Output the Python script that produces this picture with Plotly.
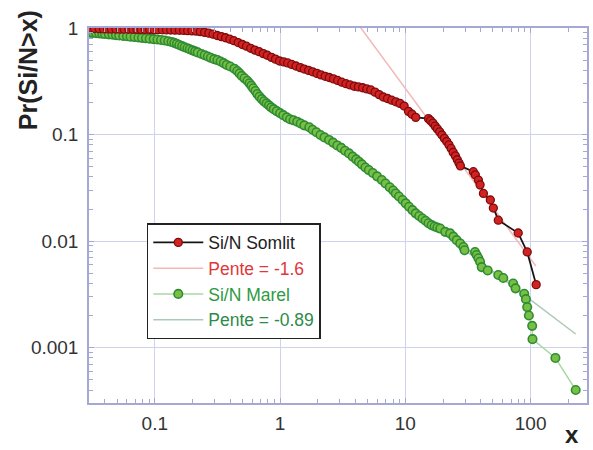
import plotly.graph_objects as go

# ---- data (survival functions Pr(Si/N > x)) ----
somlit_x = [0.031, 0.033, 0.036, 0.039, 0.042, 0.045, 0.049, 0.053, 0.057, 0.062, 0.067, 0.072, 0.078,
            0.084, 0.091, 0.098, 0.106, 0.115, 0.124, 0.134, 0.145, 0.157, 0.170, 0.183, 0.198,
            0.214, 0.231, 0.25, 0.27, 0.292, 0.315, 0.34, 0.367, 0.397, 0.428, 0.463, 0.5, 0.54, 0.583,
            0.63, 0.68, 0.735, 0.79, 0.855, 0.92, 0.99,
            1.07, 1.15, 1.24, 1.34, 1.45, 1.56, 1.69, 1.82, 1.97, 2.12, 2.29, 2.47, 2.67, 2.88, 3.11,
            3.36, 3.62, 3.91, 4.22, 4.56, 4.92, 5.3, 5.73, 6.18, 6.67, 7.2, 7.78, 8.4, 9.06, 9.78,
            10.6, 11.3, 12.1, 15.3, 15.9, 16.6, 17.3, 18.0, 18.8, 19.6, 20.5, 21.4, 22.3, 23.2, 24.1,
            25.1, 26.0, 26.8, 27.5, 34.9, 36.2, 38.3, 39.5, 42.0, 47.7, 50.4, 55.2, 79.6, 93.9, 110.7]
somlit_y = [0.99, 0.99, 0.985, 0.98, 0.98, 0.978, 0.976, 0.975, 0.974, 0.973, 0.972, 0.971, 0.97,
            0.969, 0.968, 0.966, 0.964, 0.962, 0.96, 0.958, 0.955, 0.952, 0.948, 0.944, 0.94,
            0.935, 0.925, 0.91, 0.895, 0.875, 0.85, 0.83, 0.81, 0.785, 0.76, 0.73, 0.70, 0.675, 0.645,
            0.62, 0.60, 0.575, 0.555, 0.53, 0.51, 0.49,
            0.48, 0.47, 0.455, 0.44, 0.425, 0.412, 0.40, 0.388, 0.375, 0.363, 0.352, 0.343, 0.333, 0.322, 0.31,
            0.30, 0.292, 0.284, 0.28, 0.275, 0.268, 0.262, 0.25, 0.237, 0.225, 0.218, 0.21, 0.203, 0.196, 0.185,
            0.165, 0.155, 0.145, 0.141, 0.135, 0.128, 0.12, 0.113, 0.106, 0.099, 0.092, 0.086, 0.08, 0.074, 0.068,
            0.063, 0.058, 0.054, 0.0508, 0.0448, 0.0418, 0.0374, 0.0337, 0.028, 0.0243, 0.0204, 0.0157,
            0.0119, 0.0079, 0.0039]

marel_x = [0.0305, 0.032, 0.034, 0.036, 0.038, 0.040, 0.043, 0.046, 0.049, 0.052, 0.056, 0.060, 0.064,
           0.069, 0.074, 0.079, 0.085, 0.091, 0.098, 0.105, 0.112, 0.12, 0.128, 0.136,
           0.143, 0.150, 0.157, 0.165, 0.173, 0.182, 0.19, 0.2, 0.21, 0.22, 0.236, 0.25, 0.265, 0.28,
           0.298, 0.316, 0.335, 0.355, 0.375, 0.4, 0.432, 0.455, 0.475, 0.495, 0.52, 0.548,
           0.57, 0.59, 0.61, 0.635, 0.658, 0.685, 0.715, 0.745, 0.78, 0.815, 0.85, 0.89, 0.94, 1.0,
           1.06, 1.13, 1.2, 1.28, 1.37, 1.46, 1.56, 1.71, 1.82, 1.95, 2.1, 2.26, 2.46, 2.65, 2.86,
           3.08, 3.3, 3.55, 3.8, 4.05, 4.26, 4.5, 4.8, 5.11, 5.5, 5.95, 6.49, 6.95, 7.5, 8.0, 8.38,
           8.9, 9.5, 10.07, 10.7, 11.4, 12.1, 12.9, 13.7, 14.5, 15.3, 16.2, 17.1, 18.0, 19.0, 20.8,
           22.8, 24.2, 25.7, 27.4, 29.1, 29.7, 36.0, 37.1, 38.3, 39.5, 40.7, 45.4, 55.2, 60.5, 72.6,
           75.8, 88.9, 91.7, 93.9, 96.8, 102.9, 103.5, 157.7, 229.0]
marel_y = [0.905, 0.90, 0.895, 0.89, 0.885, 0.88, 0.872, 0.865, 0.858, 0.85, 0.843, 0.836, 0.829,
           0.822, 0.815, 0.808, 0.80, 0.794, 0.787, 0.78, 0.772, 0.763, 0.752, 0.74,
           0.725, 0.71, 0.693, 0.676, 0.66, 0.645, 0.632, 0.617, 0.603, 0.59, 0.57, 0.555, 0.54, 0.525,
           0.51, 0.50, 0.485, 0.468, 0.45, 0.435, 0.415, 0.395, 0.375, 0.355, 0.337, 0.32,
           0.303, 0.288, 0.272, 0.256, 0.24, 0.227, 0.215, 0.205, 0.196, 0.188, 0.18, 0.173, 0.166, 0.159,
           0.152, 0.145, 0.139, 0.136, 0.132, 0.127, 0.122, 0.117, 0.111, 0.105, 0.099, 0.094, 0.089, 0.084, 0.079,
           0.075, 0.0705, 0.0665, 0.062, 0.0585, 0.0556, 0.0525, 0.049, 0.0464, 0.0435, 0.0405, 0.0374, 0.0347,
           0.032, 0.0298, 0.028,
           0.0262, 0.0243, 0.0226, 0.021, 0.0195, 0.0182, 0.0172, 0.0163, 0.0155, 0.0147, 0.0141, 0.0137,
           0.0134, 0.0131, 0.0122,
           0.0118, 0.0110, 0.0102, 0.0095, 0.0088, 0.0082, 0.0079, 0.0074, 0.0069, 0.0064, 0.0057, 0.0053,
           0.0048, 0.0045, 0.0040,
           0.0036, 0.0032, 0.00285, 0.0024, 0.0020, 0.0016, 0.0012, 0.0008, 0.0004]

# power-law fits: y = amp * x**slope
somlit_fit = dict(slope=-1.6, amp=10.78, x=[4.0, 110.0])
marel_fit = dict(slope=-0.89, amp=0.169, x=[8.0, 229.0])

x_tickvals = [0.1, 1, 10, 100]
x_ticktext = ["0.1", "1", "10", "100"]
y_tickvals = [0.001, 0.01, 0.1, 1]
y_ticktext = ["0.001", "0.01", "0.1", "1"]
minor_vals = [m * 10.0 ** e for e in range(-4, 3) for m in range(2, 10)]

FONT = "Liberation Sans, Arial, Helvetica, sans-serif"
AXCOL = "#a3a8d4"
GRIDCOL = "#cfd2ec"

fig = go.Figure()

def fit_trace(fit, name, color, rank):
    xs = fit["x"]
    ys = [fit["amp"] * v ** fit["slope"] for v in xs]
    return go.Scatter(x=xs, y=ys, mode="lines", name=name, legendrank=rank,
                      line=dict(color=color, width=1.5), hoverinfo="skip")

fig.add_trace(fit_trace(somlit_fit, '<span style="color:#e0383a">Pente = -1.6</span>', "#f2b8b8", 2))
fig.add_trace(fit_trace(marel_fit, '<span style="color:#2e8a4a">Pente = -0.89</span>', "#adc9b6", 4))

fig.add_trace(go.Scatter(
    x=marel_x, y=marel_y, mode="lines+markers", legendrank=3,
    name='<span style="color:#2e9a44">Si/N Marel</span>',
    line=dict(color="#a9d9a2", width=1.5),
    marker=dict(size=8.5, color="#78c043", line=dict(color="#2f8c34", width=1.6)),
))
fig.add_trace(go.Scatter(
    x=somlit_x, y=somlit_y, mode="lines+markers", legendrank=1,
    name="Si/N Somlit",
    line=dict(color="#151515", width=1.8),
    marker=dict(size=8, color="#d22222", line=dict(color="#7e0c0c", width=1.3)),
))

axis_common = dict(
    type="log", showline=True, linecolor=AXCOL, linewidth=1.5, mirror="allticks",
    ticks="inside", ticklen=5, tickcolor=AXCOL, tickwidth=1,
    showgrid=True, gridcolor=GRIDCOL, gridwidth=1, zeroline=False,
    tickfont=dict(family=FONT, size=19, color="#333333"),
    minor=dict(tickvals=minor_vals, ticks="inside", ticklen=4, tickcolor=AXCOL, showgrid=False),
)

fig.update_xaxes(**axis_common, range=[-1.525, 2.45], tickvals=x_tickvals, ticktext=x_ticktext,
                 ticklabelstandoff=2)
fig.update_yaxes(**axis_common, range=[-3.52, 0.0], tickvals=y_tickvals, ticktext=y_ticktext,
                 ticklabelstandoff=5)

fig.update_layout(
    width=593, height=450,
    margin=dict(l=89, r=4, t=28, b=47),
    plot_bgcolor="white", paper_bgcolor="white",
    font=dict(family=FONT, color="#222222"),
    showlegend=True,
    legend=dict(x=0.116, y=0.48, xanchor="left", yanchor="top",
                bgcolor="white", bordercolor="#222222", borderwidth=1.5,
                font=dict(family=FONT, size=17.5, color="#222222"),
                itemwidth=50, tracegroupgap=0),
    annotations=[
        dict(text="<b>Pr(Si/N>x)</b>", xref="paper", yref="paper", x=-0.122, y=0.888,
             textangle=-90, showarrow=False, xanchor="center", yanchor="middle",
             font=dict(family=FONT, size=25, color="#222222")),
        dict(text="<b>x</b>", xref="paper", yref="paper", x=0.97, y=-0.1253,
             showarrow=False, xanchor="center", yanchor="bottom",
             font=dict(family=FONT, size=24, color="#222222")),
    ],
)

fig.write_html("out.html")
